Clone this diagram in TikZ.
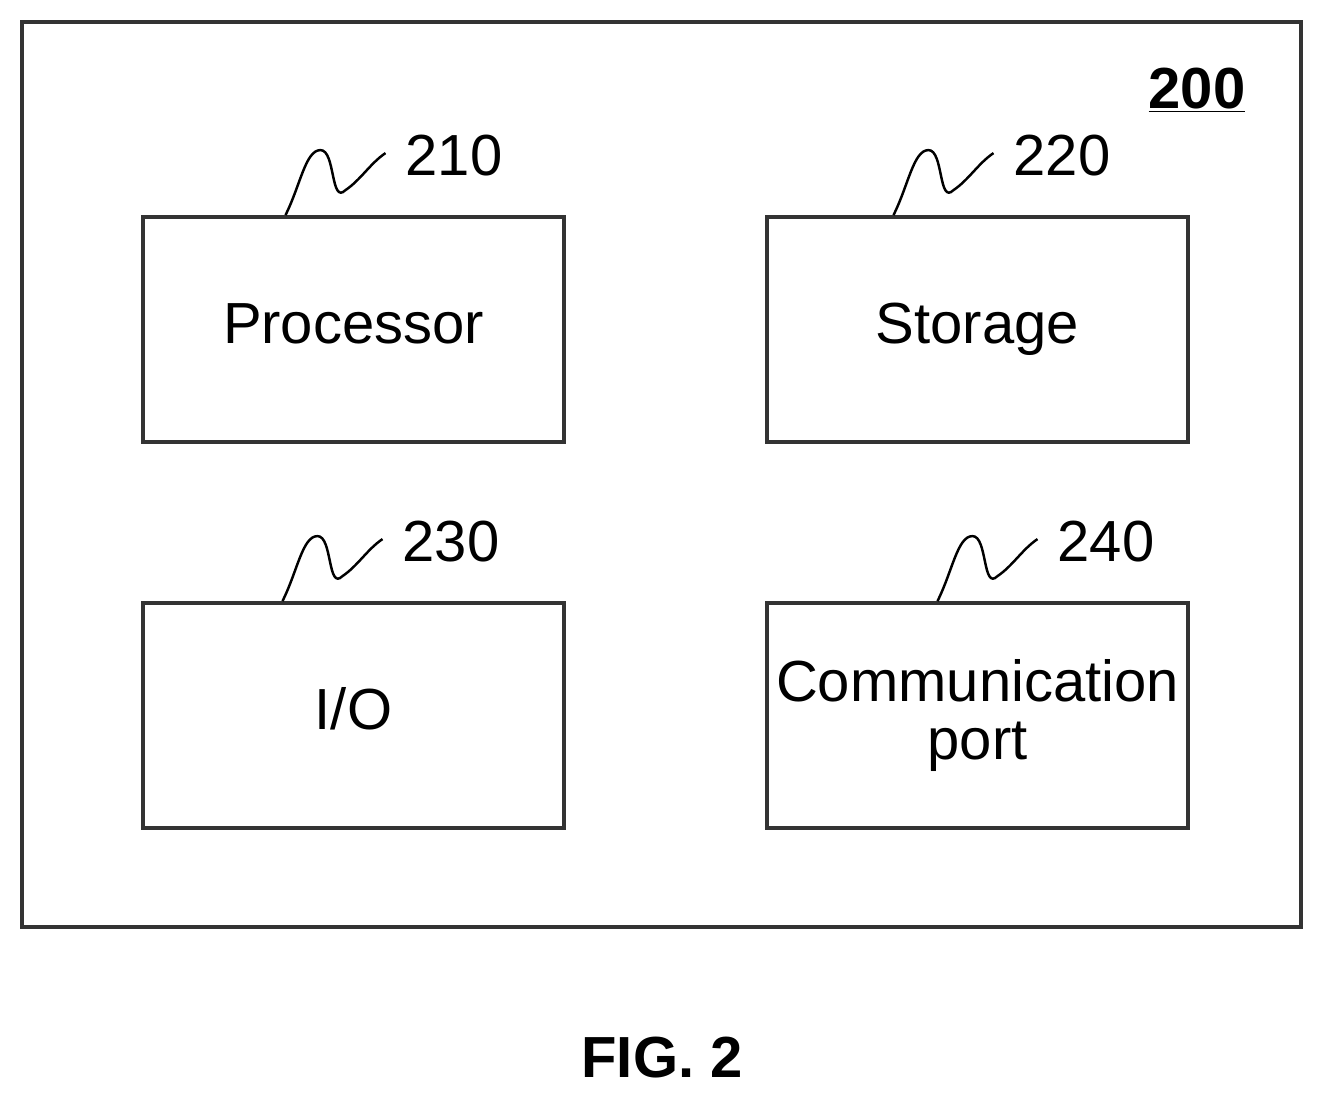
\documentclass[tikz,border=0pt]{standalone}
\usepackage{fontspec}
\setmainfont{Liberation Sans}
\begin{document}
\begin{tikzpicture}[x=0.02cm,y=-0.02cm]
    \tikzset{block/.style={draw=black!80, line width=2.2pt, minimum width=8.42cm, minimum height=4.5cm, align=center, font=\fontsize{33}{40}\selectfont},
             refnum/.style={font=\fontsize{33}{40}\selectfont},
             squig/.style={draw=black, line width=1.4pt}}
    \useasboundingbox (0,0) rectangle (1323,1099);
    
    % outer frame
    \draw[draw=black!80, line width=2.2pt] (22,22) rectangle (1301,927);
    \node[font=\fontsize{33}{40}\selectfont\bfseries] (n200) at (1197,90) {\underline{200}};
    
    % blocks
    \node[block] (proc) at (353.5,329.5) {\raisebox{-4pt}{Processor\strut}};
    \node[block] (stor) at (977.5,329.5) {\raisebox{-4pt}{Storage\strut}};
    \node[block] (io) at (353.5,715.5) {\raisebox{-4pt}{I/O\strut}};
    \node[block] (comm) at (977.5,715.5) {\raisebox{-4pt}{Communication}\\[-3pt]port};
    
    % reference numerals with squiggles
    \foreach \b/\num/\dx in {proc/210/-68, stor/220/-84, io/230/-71, comm/240/-40}{
        \coordinate (s\num) at ([xshift=\dx*0.02cm]\b.north);
        \draw[squig] (s\num) .. controls +(15,-30) and +(-15,0) .. ++(35,-65)
            .. controls +(15,0) and +(-15,15) .. ++(25,40)
            .. controls +(15,-10) and +(-15,10) .. ++(40,-37);
        \node[refnum, anchor=west] (r\num) at ([xshift=2.28cm,yshift=1.2cm]s\num) {\num};
    }
    
    \node[font=\fontsize{33}{40}\selectfont\bfseries] (fig) at (662,1058) {FIG. 2};
\end{tikzpicture}
\end{document}
